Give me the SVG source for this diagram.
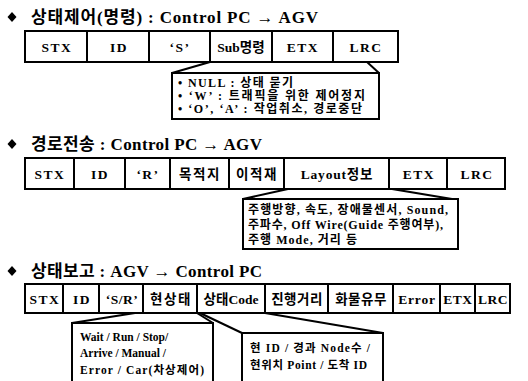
<svg xmlns="http://www.w3.org/2000/svg" width="528" height="381" viewBox="0 0 528 381">
<style>
.t{font-family:"Liberation Serif","Noto Sans CJK KR",serif;font-weight:bold;fill:#000}
.h{font-size:17px}
.b{font-size:13.5px;text-anchor:middle;letter-spacing:1.5px}
.c{font-size:12px}
.d{font-size:11.5px}
.box{fill:#fff;stroke:#000;stroke-width:2}
.ln{fill:none;stroke:#000;stroke-width:2}
</style>
<rect width="528" height="381" fill="#fff"/>

<g id="title1"><path d="M12 12 L16.5 17 L12 22 L7.5 17 Z" fill="#000"/><text class="t h" x="31" y="23" textLength="287" lengthAdjust="spacing">상태제어(명령) : Control PC → AGV</text></g>
<g id="title2"><path d="M12 139 L16.5 144 L12 149 L7.5 144 Z" fill="#000"/><text class="t h" x="31" y="150" textLength="231" lengthAdjust="spacing">경로전송 : Control PC → AGV</text></g>
<g id="title3"><path d="M12 266 L16.5 271 L12 276 L7.5 271 Z" fill="#000"/><text class="t h" x="31" y="277" textLength="231" lengthAdjust="spacing">상태보고 : AGV → Control PC</text></g>

<g id="frame1">
<rect class="box" x="25" y="31" width="62" height="31"/><text class="t b" x="57" y="52">STX</text>
<rect class="box" x="87" y="31" width="62" height="31"/><text class="t b" x="119" y="52">ID</text>
<rect class="box" x="149" y="31" width="61" height="31"/><text class="t b" x="180" y="52">‘S’</text>
<rect class="box" x="210" y="31" width="62" height="31"/><text class="t b" x="241" y="52" style="letter-spacing:0">Sub명령</text>
<rect class="box" x="272" y="31" width="61" height="31"/><text class="t b" x="303" y="52">ETX</text>
<rect class="box" x="333" y="31" width="65" height="31"/><text class="t b" x="366" y="52">LRC</text>
</g>

<g id="frame2">
<rect class="box" x="25" y="158" width="49" height="31"/><text class="t b" x="50" y="179">STX</text>
<rect class="box" x="74" y="158" width="51" height="31"/><text class="t b" x="100" y="179">ID</text>
<rect class="box" x="125" y="158" width="45" height="31"/><text class="t b" x="148" y="179">‘R’</text>
<rect class="box" x="170" y="158" width="59" height="31"/><text class="t b" x="200" y="179">목적지</text>
<rect class="box" x="229" y="158" width="55" height="31"/><text class="t b" x="257" y="179">이적재</text>
<rect class="box" x="284" y="158" width="105" height="31"/><text class="t b" x="337" y="179" style="letter-spacing:0.8px">Layout정보</text>
<rect class="box" x="389" y="158" width="58" height="31"/><text class="t b" x="419" y="179">ETX</text>
<rect class="box" x="447" y="158" width="58" height="31"/><text class="t b" x="477" y="179">LRC</text>
</g>

<g id="frame3">
<rect class="box" x="25" y="284" width="38" height="29"/><text class="t b" x="45" y="304">STX</text>
<rect class="box" x="63" y="284" width="36" height="29"/><text class="t b" x="82" y="304">ID</text>
<rect class="box" x="99" y="284" width="44" height="29"/><text class="t b" x="122" y="304" style="letter-spacing:0.5px">‘S/R’</text>
<rect class="box" x="143" y="284" width="54" height="29"/><text class="t b" x="171" y="304">현상태</text>
<rect class="box" x="197" y="284" width="68" height="29"/><text class="t b" x="231" y="304" style="letter-spacing:0">상태Code</text>
<rect class="box" x="265" y="284" width="63" height="29"/><text class="t b" x="297" y="304" style="letter-spacing:0.5px">진행거리</text>
<rect class="box" x="328" y="284" width="65" height="29"/><text class="t b" x="361" y="304" style="letter-spacing:0.5px">화물유무</text>
<rect class="box" x="393" y="284" width="47" height="29"/><text class="t b" x="417" y="304" style="letter-spacing:0.8px">Error</text>
<rect class="box" x="440" y="284" width="35" height="29"/><text class="t b" x="458" y="304" style="letter-spacing:0.5px">ETX</text>
<rect class="box" x="475" y="284" width="35" height="29"/><text class="t b" x="493" y="304" style="letter-spacing:0.5px">LRC</text>
</g>

<g id="connectors">
<path class="ln" d="M210 62 L172 73"/>
<path class="ln" d="M367 62 L379 73"/>
<path class="ln" d="M288 189 L243 199"/>
<path class="ln" d="M392 189 L458 200"/>
<path class="ln" d="M135 313 L72 323"/>
<path class="ln" d="M197 313 L213 323"/>
<path class="ln" d="M200 313 L242 333"/>
<path class="ln" d="M265 313 L383 333"/>
</g>

<g id="note1">
<rect class="box" x="172" y="73" width="207" height="46"/>
<text class="t c" x="178" y="87" textLength="115" lengthAdjust="spacing">• NULL : 상태 묻기</text>
<text class="t c" x="178" y="100" textLength="187" lengthAdjust="spacing">• ‘W’ : 트래픽을 위한 제어정지</text>
<text class="t c" x="178" y="113" textLength="184" lengthAdjust="spacing">• ‘O’, ‘A’ : 작업취소, 경로중단</text>
</g>

<g id="note2">
<rect class="box" x="243" y="199" width="215" height="50"/>
<text class="t c" x="248" y="214" textLength="200" lengthAdjust="spacing">주행방향, 속도, 장애물센서, Sound,</text>
<text class="t c" x="248" y="229" textLength="195" lengthAdjust="spacing">주파수, Off Wire(Guide 주행여부),</text>
<text class="t c" x="248" y="244" textLength="109" lengthAdjust="spacing">주행 Mode, 거리 등</text>
</g>

<g id="note3">
<path class="box" d="M72 383 L72 323 L213 323 L213 383"/>
<text class="t d" x="80" y="341">Wait / Run / Stop/</text>
<text class="t d" x="80" y="357">Arrive / Manual /</text>
<text class="t d" x="80" y="374" textLength="124" lengthAdjust="spacing">Error / Car(차상제어)</text>
</g>

<g id="note4">
<path class="box" d="M242 383 L242 333 L383 333 L383 383"/>
<text class="t d" x="250" y="352" textLength="120" lengthAdjust="spacing">현 ID / 경과 Node수 /</text>
<text class="t d" x="250" y="369" textLength="117" lengthAdjust="spacing">현위치 Point / 도착 ID</text>
</g>
</svg>
